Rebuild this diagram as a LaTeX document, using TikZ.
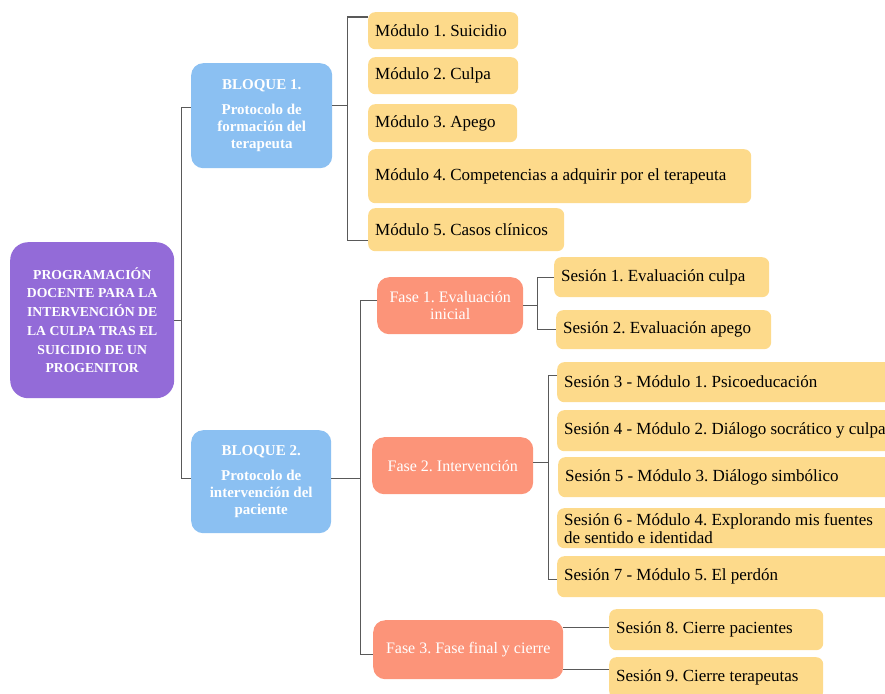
\documentclass[tikz,border=0pt]{standalone}
\usepackage{fontspec}
\setmainfont{Liberation Serif}
\usepackage{tikz}
\usetikzlibrary{positioning}
\definecolor{rootpurple}{RGB}{147,107,216}
\definecolor{blockblue}{RGB}{139,192,242}
\definecolor{phasesalmon}{RGB}{252,148,121}
\definecolor{moduleyellow}{RGB}{253,218,139}
\tikzstyle{root} = [rectangle, rounded corners=18pt, anchor=north west, inner sep=0pt, align=center, text=white, fill=rootpurple, font=\bfseries\fontsize{13.7}{18.7}\selectfont]
\tikzstyle{block} = [rectangle, rounded corners=12pt, anchor=north west, inner sep=0pt, align=center, text=white, fill=blockblue, font=\bfseries\fontsize{15}{17}\selectfont]
\tikzstyle{phase} = [rectangle, rounded corners=12pt, anchor=north west, inner sep=0pt, align=center, text=white, fill=phasesalmon, font=\fontsize{16}{17.5}\selectfont]
\tikzstyle{item} = [rectangle, rounded corners=7pt, anchor=north west, inner xsep=7pt, inner ysep=0pt, align=flush left, fill=moduleyellow, font=\fontsize{17}{18}\selectfont]
\tikzstyle{link} = [line width=1.2pt, draw=black!65]

\begin{document}
\frenchspacing
\hyphenpenalty=10000
\begin{tikzpicture}[x=1pt, y=-1pt]
\useasboundingbox (0,0) rectangle (885,693);

% Nodes
\node (root) [root, minimum width=164pt, minimum height=156pt] at (10,242) {PROGRAMACIÓN\\DOCENTE PARA LA\\INTERVENCIÓN DE\\LA CULPA TRAS EL\\SUICIDIO DE UN\\PROGENITOR};
\node (b1) [block, minimum width=141pt, minimum height=105pt] at (191,63) {BLOQUE 1.\\[8pt]Protocolo de\\formación del\\terapeuta};
\node (b2) [block, minimum width=140pt, minimum height=103pt] at (191,430) {BLOQUE 2.\\[8pt]Protocolo de\\intervención del\\paciente};

\node (m1) [item, text width=136pt, minimum height=37pt] at (368,12) {Módulo 1. Suicidio};
\node (m2) [item, text width=136pt, minimum height=37pt] at (368,57) {Módulo 2. Culpa};
\node (m3) [item, text width=135pt, minimum height=38pt] at (368,104) {Módulo 3. Apego};
\node (m4) [item, text width=369pt, minimum height=54pt] at (368,149) {Módulo 4. Competencias a adquirir por el terapeuta};
\node (m5) [item, text width=182pt, minimum height=43pt] at (368,208) {Módulo 5. Casos clínicos};

\node (f1) [phase, minimum width=146pt, minimum height=57pt] at (377,277) {Fase 1. Evaluación\\inicial};
\node (f2) [phase, minimum width=161pt, minimum height=57pt] at (372,437) {Fase 2. Intervención};
\node (f3) [phase, minimum width=190pt, minimum height=59pt] at (373,620) {Fase 3. Fase final y cierre};

\node (s1) [item, text width=201pt, minimum height=40pt] at (554,257) {Sesión 1. Evaluación culpa};
\node (s2) [item, text width=201pt, minimum height=39pt] at (556,310) {Sesión 2. Evaluación apego};
\node (s3) [item, text width=345pt, minimum height=40pt] at (557,362) {Sesión 3 - Módulo 1. Psicoeducación};
\node (s4) [item, text width=345pt, minimum height=41pt] at (557,410) {Sesión 4 - Módulo 2. Diálogo socrático y culpa};
\node (s5) [item, text width=345pt, minimum height=40pt] at (558,457) {Sesión 5 - Módulo 3. Diálogo simbólico};
\node (s6) [item, text width=345pt, minimum height=40pt] at (557,508) {Sesión 6 - Módulo 4. Explorando mis fuentes\\de sentido e identidad};
\node (s7) [item, text width=345pt, minimum height=41pt] at (557,556) {Sesión 7 - Módulo 5. El perdón};
\node (s8) [item, text width=200pt, minimum height=41pt] at (609,609) {Sesión 8. Cierre pacientes};
\node (s9) [item, text width=200pt, minimum height=41pt] at (609,657) {Sesión 9. Cierre terapeutas};

% Arrows
\draw [link] (root.east) -- ++(7,0) |- ([yshift=8.5pt]b1.west);
\draw [link] (root.east) -- ++(7,0) |- ([yshift=3.5pt]b2.west);

\draw [link] ([yshift=10.5pt]b1.east) -- ++(15,0) coordinate (b1j);
\draw [link] ([yshift=-5pt]m1.north west) -| (b1j) |- ([yshift=11pt]m5.south west);

\draw [link] ([yshift=3.5pt]b2.east) -- ++(29,0) coordinate (b2j);
\draw [link] ([yshift=5.5pt]f1.west) -| (b2j) |- ([yshift=-4.5pt]f3.west);

\draw [link] (f1.east) -- ++(14,0) coordinate (f1j);
\draw [link] (s1.west) -| (f1j) |- (s2.west);

\draw [link] ([yshift=3.5pt]f2.east) -- ++(15,0) coordinate (f2j);
\draw [link] ([yshift=7pt]s3.west) -| (f2j) |- ([yshift=-2.5pt]s7.west);

\coordinate (s8in) at ([yshift=2.5pt]s8.west);
\coordinate (s9in) at ([yshift=8.5pt]s9.west);
\draw [link] (f3.east |- s8in) -- (s8in);
\draw [link] (f3.east |- s9in) -- (s9in);

\end{tikzpicture}
\end{document}
